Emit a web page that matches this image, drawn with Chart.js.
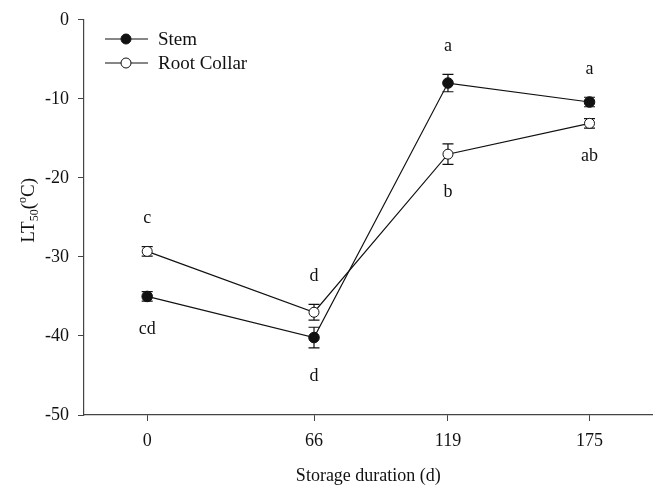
<!DOCTYPE html>
<html>
<head>
<meta charset="utf-8">
<script src="https://cdn.jsdelivr.net/npm/chart.js@4"></script>
<style>
  html, body { margin: 0; padding: 0; background: #fff; }
  #wrap { width: 659px; height: 489px; }
</style>
</head>
<body>
<div id="wrap"><canvas id="ltChart" width="659" height="489"></canvas></div>
<script>
// storage duration (days) and LT50 means / standard errors
const days = [0, 66, 119, 175];
const stemLT50 = [-35.0, -40.2, -8.0, -10.4];
const stemSE = [0.6, 1.3, 1.1, 0.6];
const rootLT50 = [-29.3, -37.0, -17.0, -13.1];
const rootSE = [0.6, 1.0, 1.3, 0.6];
const stemLetters = ['cd', 'd', 'a', 'a'];
const rootLetters = ['c', 'd', 'b', 'ab'];
const yTicks = [0, -10, -20, -30, -40, -50];

const FONT = '"Liberation Serif", "Times New Roman", serif';
const INK = '#111';

function toPoints(vals) {
    return days.map((d, i) => ({ x: d, y: vals[i] }));
}

// error bars, drawn under the markers
const errorBars = {
    id: 'errorBars',
    beforeDatasetsDraw(chart) {
        const ctx = chart.ctx;
        const y = chart.scales.y;
        chart.data.datasets.forEach((ds, di) => {
            const meta = chart.getDatasetMeta(di);
            ds.se.forEach((se, i) => {
                const px = meta.data[i].x;
                const top = y.getPixelForValue(ds.data[i].y + se);
                const bot = y.getPixelForValue(ds.data[i].y - se);
                ctx.save();
                ctx.strokeStyle = INK;
                ctx.lineWidth = 1.2;
                ctx.beginPath();
                ctx.moveTo(px, top); ctx.lineTo(px, bot);
                ctx.moveTo(px - 5.5, top); ctx.lineTo(px + 5.5, top);
                ctx.moveTo(px - 5.5, bot); ctx.lineTo(px + 5.5, bot);
                ctx.stroke();
                ctx.restore();
            });
        });
    },
    afterDatasetsDraw(chart) {
        // significance letters, placed on the side away from the other series
        const ctx = chart.ctx;
        const y = chart.scales.y;
        const sets = chart.data.datasets;
        ctx.save();
        ctx.fillStyle = INK;
        ctx.font = '18px ' + FONT;
        ctx.textAlign = 'center';
        ctx.textBaseline = 'middle';
        sets.forEach((ds, di) => {
            const other = sets[1 - di];
            const meta = chart.getDatasetMeta(di);
            ds.letters.forEach((txt, i) => {
                const v = ds.data[i].y;
                const above = v > other.data[i].y;
                const end = above ? y.getPixelForValue(v + ds.se[i]) : y.getPixelForValue(v - ds.se[i]);
                ctx.fillText(txt, meta.data[i].x, above ? end - 28 : end + 28);
            });
        });
        ctx.restore();
    },
    afterDraw(chart) {
        const ctx = chart.ctx;
        // legend
        ctx.save();
        chart.data.datasets.forEach((ds, i) => {
            const ly = 39 + i * 24;
            ctx.strokeStyle = INK;
            ctx.lineWidth = 1.2;
            ctx.beginPath();
            ctx.moveTo(105, ly); ctx.lineTo(148, ly);
            ctx.stroke();
            ctx.beginPath();
            ctx.arc(126, ly, 5, 0, Math.PI * 2);
            ctx.fillStyle = ds.pointBackgroundColor;
            ctx.fill();
            ctx.lineWidth = 1;
            ctx.stroke();
            ctx.fillStyle = INK;
            ctx.font = '19px ' + FONT;
            ctx.textAlign = 'left';
            ctx.textBaseline = 'middle';
            ctx.fillText(ds.label, 158, ly + 1);
        });
        ctx.restore();

        // y axis title with sub/superscripts
        const parts = [
            { t: 'LT', size: 19, dy: 0 },
            { t: '50', size: 12, dy: 4 },
            { t: '(', size: 19, dy: 0 },
            { t: 'o', size: 12, dy: -8 },
            { t: 'C)', size: 19, dy: 0 }
        ];
        ctx.save();
        ctx.fillStyle = INK;
        ctx.textBaseline = 'alphabetic';
        ctx.textAlign = 'left';
        let total = 0;
        parts.forEach(p => { ctx.font = p.size + 'px ' + FONT; p.w = ctx.measureText(p.t).width; total += p.w; });
        ctx.translate(34, (chart.chartArea.top + chart.chartArea.bottom) / 2 - 7);
        ctx.rotate(-Math.PI / 2);
        let x = -total / 2;
        parts.forEach(p => {
            ctx.font = p.size + 'px ' + FONT;
            ctx.fillText(p.t, x, p.dy);
            x += p.w;
        });
        ctx.restore();
    }
};

const ctx = document.getElementById('ltChart').getContext('2d');
new Chart(ctx, {
    type: 'line',
    data: {
        datasets: [{
            label: 'Stem',
            data: toPoints(stemLT50),
            se: stemSE,
            letters: stemLetters,
            borderColor: INK,
            borderWidth: 1.2,
            pointBackgroundColor: INK,
            pointBorderColor: INK,
            pointBorderWidth: 1,
            pointRadius: 5.3,
            tension: 0
        }, {
            label: 'Root Collar',
            data: toPoints(rootLT50),
            se: rootSE,
            letters: rootLetters,
            borderColor: INK,
            borderWidth: 1.2,
            pointBackgroundColor: '#fff',
            pointBorderColor: INK,
            pointBorderWidth: 1,
            pointRadius: 5,
            tension: 0
        }]
    },
    options: {
        responsive: false,
        animation: false,
        layout: { padding: { top: 17, right: 6, left: 0, bottom: 0 } },
        plugins: {
            legend: { display: false },
            tooltip: { enabled: false }
        },
        scales: {
            x: {
                type: 'linear',
                min: -25,
                max: 200,
                afterBuildTicks: scale => { scale.ticks = days.map(v => ({ value: v })); },
                afterFit: scale => { scale.height = 74; },
                grid: { drawOnChartArea: false, tickLength: 6, tickColor: '#444', tickWidth: 1 },
                border: { color: '#444', width: 1.2 },
                ticks: { color: INK, font: { family: FONT, size: 18 }, padding: 9, maxRotation: 0 },
                title: {
                    display: true,
                    text: 'Storage duration (d)',
                    color: INK,
                    font: { family: FONT, size: 18 },
                    padding: { top: 0, bottom: 2 }
                }
            },
            y: {
                min: -50,
                max: 0,
                afterBuildTicks: scale => { scale.ticks = yTicks.map(v => ({ value: v })); },
                afterFit: scale => { scale.width = 84; },
                grid: { drawOnChartArea: false, tickLength: 6, tickColor: '#444', tickWidth: 1 },
                border: { color: '#444', width: 1.2 },
                ticks: { color: INK, font: { family: FONT, size: 18 }, padding: 9 }
            }
        }
    },
    plugins: [errorBars]
});
</script>
</body>
</html>
